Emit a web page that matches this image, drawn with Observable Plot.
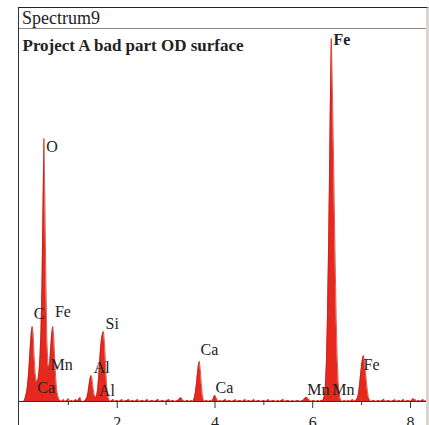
<!DOCTYPE html>
<html><head><meta charset="utf-8">
<script src="https://cdn.jsdelivr.net/npm/d3@7"></script>
<script src="https://cdn.jsdelivr.net/npm/@observablehq/plot@0.6"></script>
<style>
html,body{margin:0;padding:0;background:#fff;width:429px;height:425px;overflow:hidden}
#wrap{position:absolute;left:18px;top:7px;width:407px;height:418px;border-left:1px solid #333;border-top:1px solid #222;border-right:3px solid #d9d6d2;overflow:hidden}
#header{height:20px;border-bottom:1px solid #8a8a8a;font-family:'Liberation Serif','Times New Roman',serif;font-size:18px;line-height:20px;padding-left:3px;color:#222;background:#fff}
</style></head><body>
<div id="wrap"><div id="header">Spectrum9</div><div id="chart"></div></div>
<script>
// EDS spectrum, [energy keV, counts]
const spectrumLow = [
 [0.02,0],[0.08,0],[0.10,1],[0.12,4],[0.14,8],[0.16,14],[0.18,24],[0.20,38],[0.22,54],[0.24,68],
 [0.26,75],[0.28,68],[0.30,45],[0.32,28],[0.34,21],[0.36,19],[0.38,22],[0.40,30],[0.42,45],
 [0.44,70],[0.46,115],[0.48,190],[0.50,263],[0.52,200],[0.54,120],[0.56,62],[0.58,38],[0.60,32],
 [0.62,40],[0.64,54],[0.66,68],[0.68,75],[0.70,66],[0.72,44],[0.74,24],[0.76,12],[0.78,6],
 [0.80,3],[0.82,1],[0.86,0],[0.90,2],[0.92,0],[0.98,1],[1.00,3],[1.02,0],[1.08,1],[1.10,0],
 [1.16,2],[1.18,0],[1.24,4],[1.26,1],[1.28,0],[1.32,0]
];
const spectrumAlSi = [
 [1.34,1],[1.36,2],[1.38,4],[1.40,8],[1.42,15],[1.44,22],[1.46,26],[1.48,24],[1.50,16],[1.52,8],
 [1.54,5],[1.56,4],[1.58,6],[1.60,12],[1.62,24],[1.64,40],[1.66,54],[1.68,63],[1.70,68],[1.72,70],
 [1.74,58],[1.76,38],[1.78,18],[1.80,7],[1.82,3],[1.84,1],[1.86,0]
];
const spectrumMid = [
 [1.92,2],[1.94,0],[2.00,1],[2.04,0],[2.10,2],[2.12,0],[2.20,1],[2.24,2],[2.26,0],[2.32,1],[2.36,0],
 [2.42,2],[2.44,0],[2.52,1],[2.56,0],[2.62,2],[2.64,0],[2.72,1],[2.76,0],[2.84,2],[2.86,0],[2.94,1],
 [2.98,0],[3.06,2],[3.08,0],[3.14,1],[3.18,0],[3.24,1],[3.28,3],[3.30,4],[3.32,3],[3.34,1],[3.38,0],
 [3.44,1],[3.48,0],[3.52,1],[3.54,0],
 [3.56,1],[3.58,4],[3.60,9],[3.62,17],[3.64,27],[3.66,36],[3.68,40],[3.70,32],[3.72,18],[3.74,7],
 [3.76,2],[3.78,0],[3.84,1],[3.86,0],[3.92,1],[3.94,0],[3.96,2],[3.98,5],[4.00,6],[4.02,4],[4.04,2],
 [4.06,0],[4.12,1],[4.14,0],[4.22,2],[4.24,0],[4.30,1],[4.34,0],[4.40,1],[4.42,2],[4.44,0],[4.52,1],
 [4.56,0],[4.62,2],[4.64,0],[4.70,1],[4.74,0],[4.80,2],[4.82,0],[4.90,1],[4.94,0],[5.00,1],[5.04,0],
 [5.10,2],[5.12,0],[5.20,1],[5.24,0],[5.30,1],[5.32,0],[5.40,2],[5.42,0],[5.50,1],[5.54,0],[5.60,1],
 [5.62,0],[5.70,1],[5.74,0],[5.80,1],[5.82,2],[5.84,3],[5.86,4],[5.88,4],[5.90,3],[5.92,2],[5.94,1],
 [5.96,0],[6.02,1],[6.06,0],[6.12,1],[6.14,0],[6.18,1]
];
const spectrumFe = [
 [6.20,1],[6.22,2],[6.24,6],[6.26,16],[6.28,38],[6.30,80],[6.32,140],[6.34,210],[6.36,295],[6.38,363],
 [6.40,320],[6.42,262],[6.44,200],[6.46,138],[6.48,84],[6.50,45],[6.52,20],[6.54,9],[6.56,3],[6.58,1],
 [6.60,0],[6.66,1],[6.68,0],[6.74,1],[6.76,0],[6.82,2],[6.84,0],
 [6.88,1],[6.90,2],[6.92,4],[6.94,9],[6.96,17],[6.98,27],[7.00,36],[7.02,43],[7.04,46],[7.06,40],
 [7.08,30],[7.10,19],[7.12,10],[7.14,4],[7.16,2],[7.18,0]
];
const spectrumHigh = [
 [7.26,1],[7.28,0],[7.36,1],[7.38,0],[7.46,2],[7.48,0],[7.56,1],[7.60,0],[7.66,1],[7.68,2],[7.70,0],
 [7.78,1],[7.80,0],[7.86,2],[7.88,0],[7.96,1],[8.00,0],[8.04,2],[8.06,3],[8.08,1],[8.10,2],[8.12,0],
 [8.18,1],[8.20,0],[8.26,2],[8.28,0],[8.32,1]
];
// peak labels
const labelText  = ["Fe","O","C","Fe","Mn","Ca","Al","Al","Si","Ca","Ca","Mn","Mn","Fe"];
const labelE     = [6.425,0.547,0.294,0.724,0.636,0.363,1.52,1.624,1.761,3.704,4.011,5.887,6.399,7.04];
const labelCount = [362,255,88,90,37,13.5,34,11,78,52,13.5,12,11.5,37];
const labelBold  = [true,false,false,false,false,false,false,false,false,false,false,false,false,false];
const majorTicks = [2,4,6,8];
const minorTicks = [1,3,5,7];
const title = "Project A bad part OD surface";

const spectrum = [...spectrumLow, ...spectrumAlSi, ...spectrumMid, ...spectrumFe, ...spectrumHigh]
  .map(([e,c]) => ({e, c}));
const labels = labelText.map((t,i) => ({t, e: labelE[i], c: labelCount[i], b: labelBold[i]}));

const chart = Plot.plot({
  width: 407, height: 396,
  marginLeft: 0, marginRight: 0, marginTop: 0, marginBottom: 24,
  x: {domain: [0, 8.328], label: null},
  y: {domain: [0, 372], axis: null, label: null},
  style: {fontFamily: "'Liberation Serif', 'Times New Roman', serif", background: "white", color: "#222", overflow: "visible"},
  marks: [
    Plot.areaY(spectrum, {x: "e", y: "c", fill: "#e5291e"}),
    Plot.lineY(spectrum, {x: "e", y: "c", stroke: "#c41e15", strokeWidth: 0.7}),
    Plot.ruleY([0], {stroke: "#333"}),
    Plot.axisX({ticks: majorTicks, tickSize: 7, tickPadding: 8, fontSize: 16, stroke: "#333", label: null}),
    Plot.axisX({ticks: minorTicks, tickSize: 4, tickFormat: () => "", stroke: "#333", label: null}),
    Plot.text(labels.filter(d => !d.b), {x: "e", y: "c", text: "t", textAnchor: "start", lineAnchor: "middle", fontSize: 16, fill: "#222"}),
    Plot.text(labels.filter(d => d.b), {x: "e", y: "c", text: "t", textAnchor: "start", lineAnchor: "middle", fontSize: 16, fontWeight: "bold", fill: "#222"}),
    Plot.text([title], {frameAnchor: "top-left", dx: 3, dy: 16, lineAnchor: "middle", fontSize: 17, fontWeight: "bold", fill: "#222"})
  ]
});
document.getElementById("chart").appendChild(chart);
</script>
</body></html>
